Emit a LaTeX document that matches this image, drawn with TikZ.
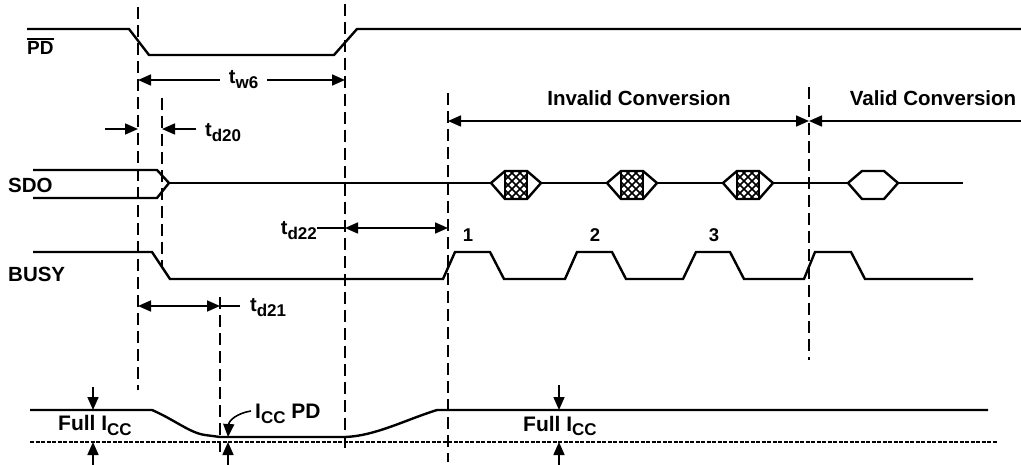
\documentclass[tikz,border=0pt]{standalone}
\usepackage{fontspec}
\setmainfont{Liberation Sans}
\usetikzlibrary{arrows.meta,patterns.meta}
\newcommand{\tlbl}[1]{t\raisebox{-5pt}{\fontsize{17}{17}\selectfont #1}}
\newcommand{\icc}{I\raisebox{-5pt}{\fontsize{17}{17}\selectfont CC}}
\begin{document}
\begin{tikzpicture}[x=1pt,y=-1pt,
    sig/.style={line width=2.4pt},
    guide/.style={line width=1.2pt,dash pattern=on 12pt off 6pt},
    dimline/.style={line width=1.6pt},
    both/.style={dimline,{Triangle[length=13pt,width=11pt]}-{Triangle[length=13pt,width=11pt]}},
    one/.style={dimline,-{Triangle[length=13pt,width=11pt]}},
    siglbl/.style={font=\bfseries\fontsize{20.5}{20.5}\selectfont,inner sep=0pt},
    tlab/.style={font=\bfseries\fontsize{20}{20}\selectfont,inner sep=0pt},
    numlbl/.style={font=\bfseries\fontsize{18.5}{18.5}\selectfont,inner sep=0pt},
    convlbl/.style={font=\bfseries\fontsize{20.5}{20.5}\selectfont,inner sep=0pt},
    curlbl/.style={font=\bfseries\fontsize{21}{21}\selectfont,inner sep=0pt}]
    \useasboundingbox (0,0) rectangle (1021,465);
    %% Guide lines
    \foreach \gx/\gt/\gb in {138/7/390,345/4/450,162/98/267,448/93/462,809/87/360,220/297/452}
        \draw[guide] (\gx,\gt) -- (\gx,\gb);
    %% PD
    \node[siglbl,anchor=base west,font=\bfseries\fontsize{19}{19}\selectfont] (pd) at (27,55) {PD};
    \draw[line width=1.6pt] ([yshift=3pt]pd.north west) -- ([yshift=3pt]pd.north east);
    \draw[sig] (27,29) -- (129,29) -- (149,55) -- (334,55) -- (357,29) -- (1021,29);
    %% SDO
    \node[siglbl,anchor=base west] (sdo) at (8,193) {SDO};
    \draw[sig] (33,170) -- (157,170) -- (169,183) -- (157,198) -- (33,198);
    \draw[sig] (169,183) -- (963,183);
    \foreach \L in {491,607,723}{
        \fill[white] (\L,183) -- ({\L+14},171) -- ({\L+36},171) -- ({\L+50},183) -- ({\L+36},199) -- ({\L+14},199) -- cycle;
        \begin{scope}
            \clip ({\L+14},171) rectangle ({\L+36},199);
            \foreach \k in {-4,...,4}{
                \draw[line width=1.6pt] ({\L+25+8*\k-20},165) -- ({\L+25+8*\k+20},205);
                \draw[line width=1.6pt] ({\L+25+8*\k+20},165) -- ({\L+25+8*\k-20},205);
            }
        \end{scope}
        \draw[sig] (\L,183) -- ({\L+14},171) -- ({\L+36},171) -- ({\L+50},183) -- ({\L+36},199) -- ({\L+14},199) -- cycle;
        \draw[sig] ({\L+14},171) -- ({\L+14},199) ({\L+36},171) -- ({\L+36},199);
    }
    \filldraw[sig,fill=white] (848,183) -- (862,171) -- (884,171) -- (898,183) -- (884,199) -- (862,199) -- cycle;
    %% BUSY
    \node[siglbl,anchor=base west] (busy) at (8,282) {BUSY};
    \draw[sig] (33,252) -- (152,252) -- (170,279) -- (443,279) -- (455,252) -- (490,252) -- (504,279)
        -- (565,279) -- (577,252) -- (612,252) -- (626,279) -- (683,279) -- (696,252) -- (730,252)
        -- (744,279) -- (804,279) -- (815,252) -- (851,252) -- (865,279) -- (973,279);
    \node[numlbl,anchor=base] (n1) at (468,242) {1};
    \node[numlbl,anchor=base] (n2) at (595,242) {2};
    \node[numlbl,anchor=base] (n3) at (714,242) {3};
    %% ICC
    \draw[sig] (30,410) -- (152,410) .. controls (175,420) and (190,433) .. (205,435) -- (220,437)
        -- (345,437) .. controls (375,436) and (405,420) .. (437,410) -- (988,410);
    \draw[line width=1.5pt,dash pattern=on 4pt off 1.5pt] (30,442) -- (997,442);
    %% Timing
    \coordinate (twL) at (138,80);
    \coordinate (twR) at (345,80);
    \draw[both] (twL) -- node[tlab,fill=white,inner xsep=9pt,pos=0.51] (tw6) {\tlbl{w6}} (twR);
    \coordinate (t20A) at (105,129);
    \coordinate (t20B) at (138,129);
    \coordinate (t20C) at (162,129);
    \node[tlab,anchor=base west] (td20) at (205,137) {\tlbl{d20}};
    \draw[one] (t20A) -- (t20B);
    \draw[one] (td20.west |- t20C) ++(-9,0) -- (t20C);
    \coordinate (t22A) at (345,228);
    \coordinate (t22B) at (448,228);
    \node[tlab,anchor=base east] (td22) at (317,235) {\tlbl{d22}};
    \draw[dimline] (td22.east |- t22A) -- (t22A);
    \draw[both] (t22A) -- (t22B);
    \coordinate (t21A) at (138,306);
    \coordinate (t21B) at (220,306);
    \node[tlab,anchor=base west] (td21) at (250,312) {\tlbl{d21}};
    \draw[both] (t21A) -- (t21B);
    \draw[dimline] (t21B) -- ([xshift=-10pt]td21.west |- t21B);
    \coordinate (icA) at (448,121);
    \coordinate (icB) at (809,121);
    \coordinate (icC) at (1021,121);
    \draw[both] (icA) -- (icB);
    \draw[one] (icC) -- (icB);
    \node[convlbl,anchor=base] (inv) at (639,106) {Invalid Conversion};
    \node[convlbl,anchor=base] (val) at (933,106) {Valid Conversion};
    %% Current levels
    \node[curlbl,anchor=base west] (full1) at (58,430) {Full \icc};
    \draw[one] (93,387) -- (93,410);
    \draw[one] (93,465) -- (93,442);
    \node[curlbl,anchor=base west] (full2) at (523,431) {Full \icc};
    \draw[one] (559,385) -- (559,410);
    \draw[one] (559,465) -- (559,442);
    \node[curlbl,anchor=base west] (iccpd) at (255,418) {\icc\ PD};
    \draw[one] ([xshift=-4pt]iccpd.west |- 0,411) .. controls (238,413) and (229,420) .. (228,437);
    \draw[one] (228,465) -- (228,442);
\end{tikzpicture}
\end{document}
